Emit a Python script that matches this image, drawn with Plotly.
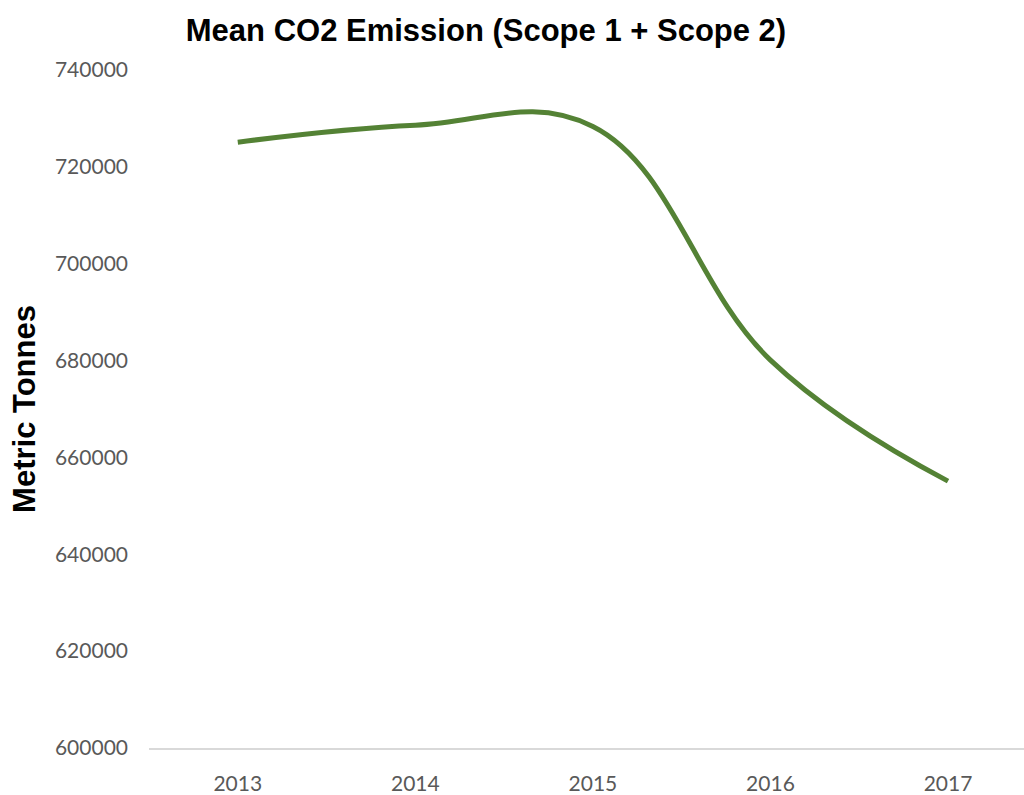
import plotly.graph_objects as go

years = ["2013", "2014", "2015", "2016", "2017"]
emissions = [725100, 728600, 728350, 680100, 655100]
y_ticks = [600000, 620000, 640000, 660000, 680000, 700000, 720000, 740000]

fig = go.Figure()
fig.add_trace(go.Scatter(
    x=years, y=emissions, mode="lines",
    line=dict(color="#548235", width=5, shape="spline", smoothing=1.15),
    hoverinfo="x+y", showlegend=False,
))

bold_font = "Liberation Sans Narrow, Arial Narrow, Liberation Sans, Arial, sans-serif"
tick_font = dict(family="Lato, Carlito, Calibri, sans-serif", size=21, color="#595959")
fig.update_layout(
    width=1024, height=795,
    margin=dict(l=149, r=0, t=70, b=40),
    paper_bgcolor="white", plot_bgcolor="white",
    title=dict(
        text="<b>Mean CO2 Emission (Scope 1 + Scope 2)</b>",
        font=dict(family=bold_font, size=31, color="black"),
        x=486/1024, xanchor="center", xref="container",
        y=1 - 30/795, yanchor="middle", yref="container",
    ),
    xaxis=dict(
        type="category", range=[-0.5, 4.428],
        showgrid=False, zeroline=False,
        showline=True, linecolor="#d9d9d9", linewidth=2,
        ticks="", tickfont=tick_font, ticklabelstandoff=16,
        fixedrange=True,
    ),
    yaxis=dict(
        range=[600000, 740000], tickvals=y_ticks,
        tickformat="d",
        showgrid=False, zeroline=False, showline=False,
        ticks="", tickfont=tick_font, ticklabelstandoff=20,
        title=dict(text="<b>Metric Tonnes</b>",
                   font=dict(family=bold_font, size=31, color="black"),
                   standoff=10),
        automargin=False,
        fixedrange=True,
    ),
)

fig.write_html(
    "out.html",
    config={"displayModeBar": False},
    post_script="document.body.style.margin='0';document.body.style.overflow='hidden';",
)
